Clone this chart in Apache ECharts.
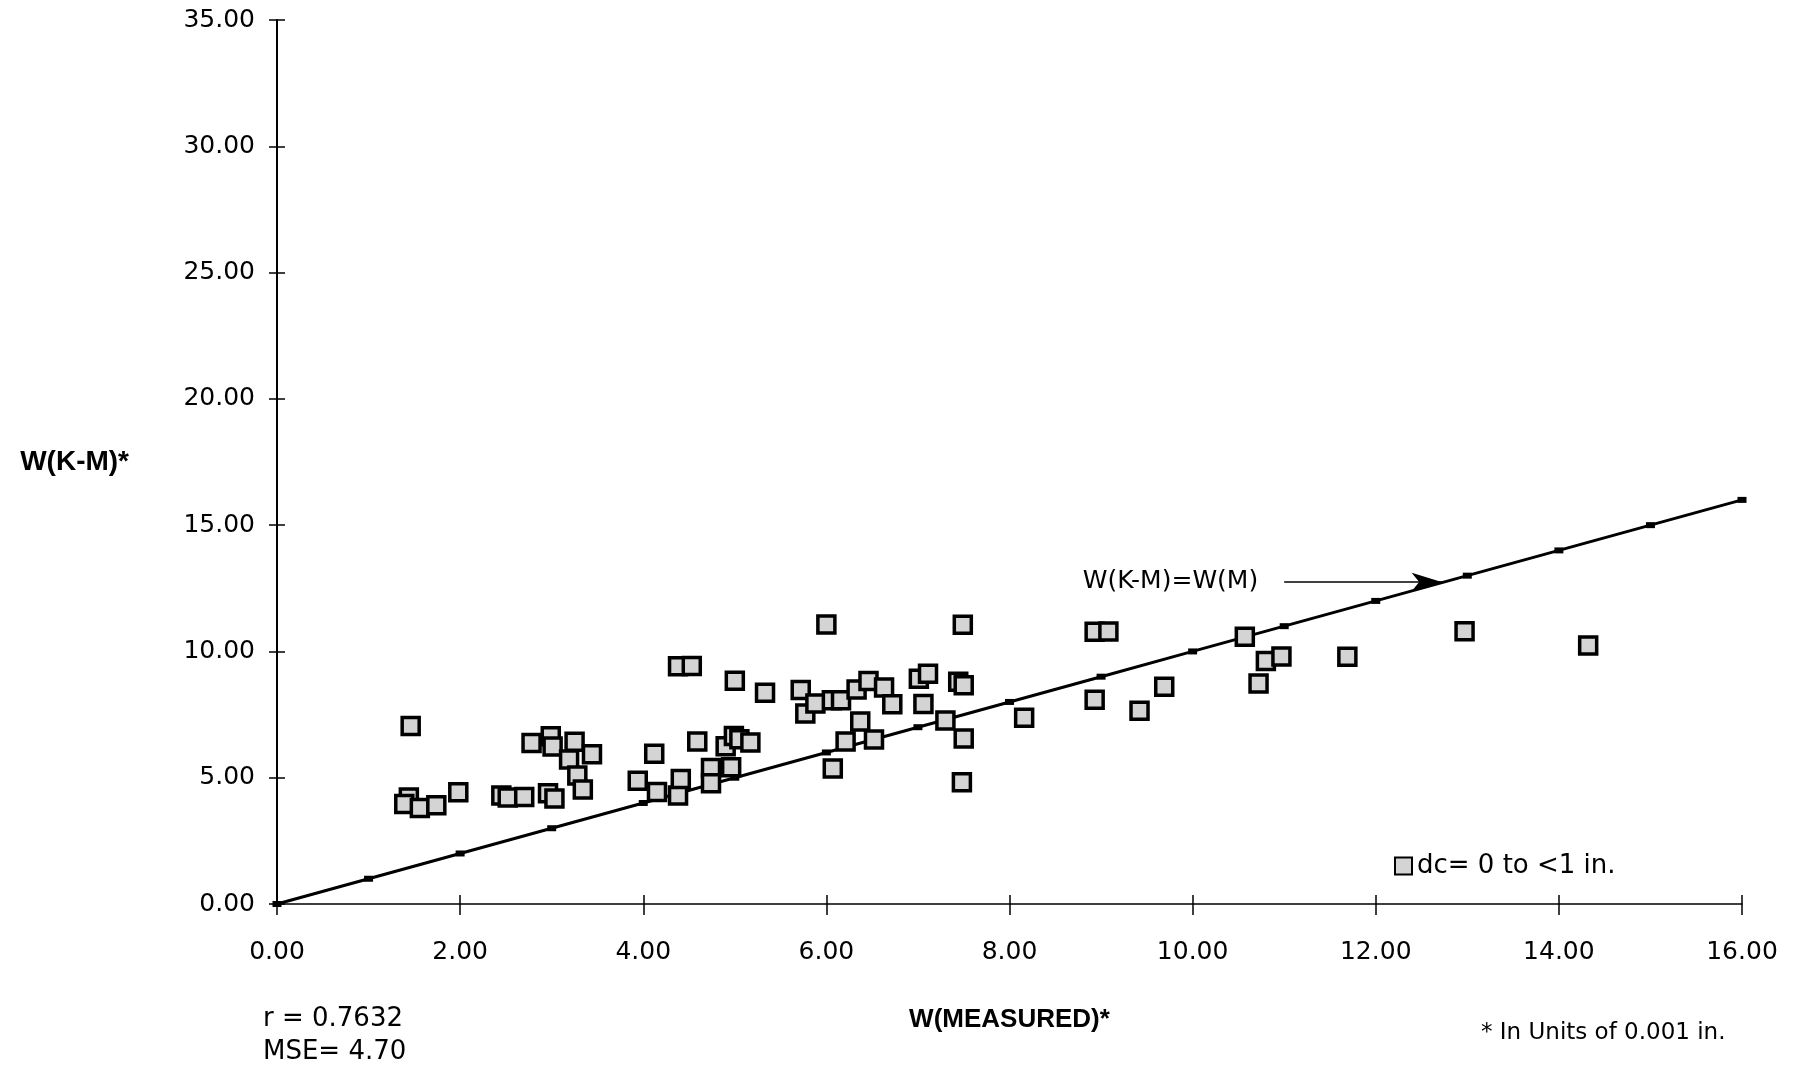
<!DOCTYPE html>
<html>
<head>
<meta charset="utf-8">
<script src="https://cdn.jsdelivr.net/npm/echarts@6/dist/echarts.min.js"></script>
<style>
html,body{margin:0;padding:0;background:#fff;}
#chart{width:1807px;height:1071px;}
</style>
</head>
<body>
<div id="chart"></div>
<script>
// W(MEASURED)* values (x) and W(K-M)* values (y), units of 0.001 in.
const wMeasured = [1.46,1.44,1.39,1.56,1.74,1.98,2.45,2.52,2.70,2.96,3.03,2.78,2.99,3.01,3.25,3.19,3.44,3.28,3.34,3.94,4.12,4.15,4.38,4.41,4.38,4.53,4.59,4.74,4.74,4.96,4.90,4.99,5.05,5.17,5.00,5.33,5.72,5.77,5.88,6.06,6.16,6.00,6.07,6.33,6.46,6.63,6.72,6.37,6.21,6.52,7.01,7.11,7.06,7.30,7.49,7.44,7.50,7.50,7.48,8.16,8.93,9.08,8.93,9.42,9.69,10.57,10.72,10.80,10.97,11.69,12.97,14.32];
const wKM = [7.05,4.22,3.96,3.80,3.91,4.42,4.30,4.22,4.24,4.38,4.18,6.37,6.64,6.24,6.42,5.72,5.93,5.09,4.53,4.88,5.95,4.43,4.30,4.95,9.41,9.42,6.43,5.38,4.78,5.41,6.25,6.65,6.52,6.39,8.84,8.36,8.47,7.54,7.94,8.07,8.07,11.07,5.36,8.49,8.83,8.57,7.91,7.23,6.43,6.51,8.92,9.12,7.92,7.27,11.06,8.80,8.66,6.55,4.82,7.37,10.78,10.79,8.09,7.65,8.60,10.58,8.73,9.62,9.80,9.79,10.80,10.23];
// Reference line W(K-M) = W(M)
const refLineX = [0,1,2,3,4,5,6,7,8,9,10,11,12,13,14,15,16];
const refLineY = [0,1,2,3,4,5,6,7,8,9,10,11,12,13,14,15,16];
// Arrow annotation pointing at the line
const arrowFrom = [11.0, 12.75];
const arrowTo = [12.72, 12.75];
const seriesName = 'dc= 0 to <1 in.';
const lineLabel = 'W(K-M)=W(M)';
const xTitle = 'W(MEASURED)*';
const yTitle = 'W(K-M)*';
const statLines = ['r = 0.7632', 'MSE= 4.70'];
const footnote = '* In Units of 0.001 in.';
const xAxisRange = {min: 0, max: 16, interval: 2};
const yAxisRange = {min: 0, max: 35, interval: 5};

const FONT = '"Liberation Sans", Arial, Helvetica, sans-serif';
const WIDE = '"DejaVu Sans", "Liberation Sans", sans-serif';
const points = wMeasured.map((x, i) => [x, wKM[i]]);
const lineData = refLineX.map((x, i) => [x, refLineY[i]]);

const chart = echarts.init(document.getElementById('chart'), null, {renderer: 'canvas'});
const fmt = v => v.toFixed(2);

chart.setOption({
  backgroundColor: '#ffffff',
  animation: false,
  grid: {left: 277, right: 65, top: 20, bottom: 167, containLabel: false},
  xAxis: [{
    type: 'value', min: xAxisRange.min, max: xAxisRange.max, interval: xAxisRange.interval,
    position: 'bottom',
    name: xTitle, nameLocation: 'middle', nameGap: 103,
    nameTextStyle: {fontFamily: FONT, fontSize: 26, fontWeight: 'bold', color: '#000'},
    axisLine: {show: true, onZero: false, lineStyle: {color: '#000', width: 1.5}},
    axisTick: {show: true, length: 11, lineStyle: {color: '#000', width: 1.5}},
    axisLabel: {formatter: fmt, margin: 36, fontFamily: WIDE, fontSize: 25, color: '#000'},
    splitLine: {show: false}
  }, {
    type: 'value', min: xAxisRange.min, max: xAxisRange.max, interval: xAxisRange.interval,
    position: 'bottom', gridIndex: 0,
    axisLine: {show: false},
    axisTick: {show: true, inside: true, length: 9, lineStyle: {color: '#000', width: 1.5}},
    axisLabel: {show: false},
    splitLine: {show: false}
  }],
  yAxis: [{
    type: 'value', min: yAxisRange.min, max: yAxisRange.max, interval: yAxisRange.interval,
    position: 'left',
    name: yTitle, nameLocation: 'middle', nameRotate: 0, nameGap: 148,
    nameTextStyle: {fontFamily: FONT, fontSize: 28, fontWeight: 'bold', color: '#000'},
    axisLine: {show: true, onZero: false, lineStyle: {color: '#000', width: 2}},
    axisTick: {show: true, length: 8, lineStyle: {color: '#000', width: 1.5}},
    axisLabel: {formatter: fmt, margin: 22, fontFamily: WIDE, fontSize: 25, color: '#000'},
    splitLine: {show: false}
  }, {
    type: 'value', min: yAxisRange.min, max: yAxisRange.max, interval: yAxisRange.interval,
    position: 'left', gridIndex: 0,
    axisLine: {show: false},
    axisTick: {show: true, inside: true, length: 8, lineStyle: {color: '#000', width: 1.5}},
    axisLabel: {show: false},
    splitLine: {show: false}
  }],
  legend: {
    data: [seriesName],
    left: 1389, top: 848,
    itemWidth: 17, itemHeight: 17, itemGap: 10,
    textStyle: {fontFamily: WIDE, fontSize: 26, color: '#000'}
  },
  series: [{
    name: lineLabel,
    type: 'line',
    data: lineData,
    z: 2,
    showAllSymbol: true,
    symbol: 'rect', symbolSize: [9, 6],
    itemStyle: {color: '#000'},
    lineStyle: {color: '#000', width: 3},
    markLine: {
      silent: true,
      symbol: ['none', 'arrow'],
      symbolSize: [14, 30],
      lineStyle: {color: '#000', width: 1.5, type: 'solid'},
      label: {
        show: true, position: 'start', distance: 26,
        formatter: lineLabel,
        fontFamily: WIDE, fontSize: 25, color: '#000'
      },
      data: [[{coord: arrowFrom}, {coord: arrowTo}]]
    }
  }, {
    name: seriesName,
    type: 'scatter',
    data: points,
    z: 5,
    symbol: 'rect', symbolSize: 17,
    itemStyle: {color: '#d4d4d4', borderColor: '#000', borderWidth: 3.5, opacity: 1}
  }],
  graphic: [
    {type: 'text', left: 263, top: 1006, style: {text: statLines[0], font: '26px ' + WIDE, fill: '#000'}},
    {type: 'text', left: 263, top: 1039, style: {text: statLines[1], font: '26px ' + WIDE, fill: '#000'}},
    {type: 'text', left: 1481, top: 1022, style: {text: footnote, font: '23px ' + WIDE, fill: '#000'}}
  ]
});
</script>
</body>
</html>
